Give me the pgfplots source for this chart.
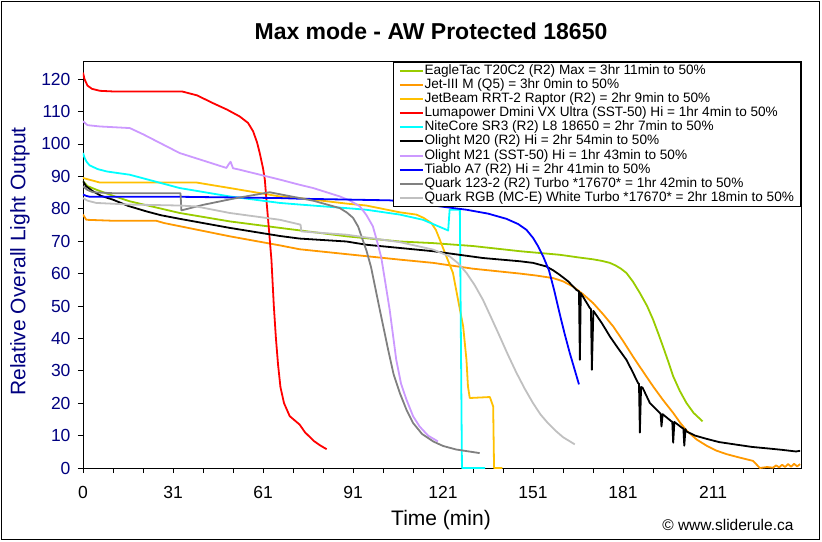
\documentclass[border=0pt]{standalone}
\usepackage{pgfplots}
\pgfplotsset{compat=1.18}
\usepackage{fontspec}
\setmainfont{Liberation Sans}
\definecolor{cGreen}{HTML}{99CC00}
\definecolor{cOrange}{HTML}{FF9900}
\definecolor{cYellow}{HTML}{FFC000}
\definecolor{cRed}{HTML}{FF0000}
\definecolor{cCyan}{HTML}{00FFFF}
\definecolor{cPurple}{HTML}{CC99FF}
\definecolor{cBlue}{HTML}{0000FF}
\definecolor{cGray}{HTML}{808080}
\definecolor{cLGray}{HTML}{C0C0C0}
\definecolor{navy}{HTML}{000080}
\begin{document}
\begin{tikzpicture}
\useasboundingbox (-83pt,-73pt) rectangle (739pt,468pt);
\draw[black,line width=1.5pt] (-81.5pt,-71.5pt) rectangle (736.5pt,466.5pt);
\begin{axis}[
  at={(0pt,0pt)}, anchor=south west,
  scale only axis, width=718pt, height=407pt,
  xmin=0, xmax=239.3, ymin=0, ymax=125.6,
  axis line style={black,line width=0.8pt},
  tick pos=left, tick align=outside, major tick length=5pt,
  tick style={black,line width=0.8pt},
  xtick={0,10,...,230},
  xticklabels={0,,,31,,,61,,,91,,,121,,,151,,,181,,,211,,},
  ytick={0,10,...,120},
  /pgf/number format/assume math mode=true,
  xticklabel style={font=\fontsize{17.5}{20}\selectfont, text=black, yshift=-10pt},
  yticklabel style={font=\fontsize{17.5}{20}\selectfont, text=navy, xshift=-4pt},
  legend cell align=left,
  legend style={at={(rel axis cs:1,1)}, anchor=north east, yshift=-1pt,
    draw=black, line width=0.8pt, fill=white,
    font=\fontsize{13.6}{14}\selectfont,
    inner xsep=6pt, inner ysep=1.5pt,
    nodes={inner sep=0.6pt, text height=10pt, text depth=2.9pt},
    row sep=0pt},
  legend image code/.code={\draw[#1,line width=2pt] (0pt,0pt) -- (23pt,0pt);},
  every axis plot/.append style={line width=1.8pt, line join=round},
]
\addplot[cGreen] coordinates {
(0,88.5) (1.5,87) (4.4,85.9) (10,84) (15.6,82.3) (32.2,78.7) (48.9,76.1) (65.6,74.1)
(87.8,71.5) (105.6,69.9) (116.7,69.4) (130,68.5) (145.6,66.9) (158.9,65.8) (165,65)
(170,64.4) (173,63.9) (175.6,63.3) (177.5,62.5) (179.3,61.5) (181.1,60.2) (183.3,57.5)
(185.6,54) (188,50) (190,45.8) (191.7,41.6) (193.3,37.5) (195,33) (196.7,28.3)
(198.9,23.8) (201.1,20.1) (203.5,17) (206.5,14.4)};
\addlegendentry{EagleTac T20C2 (R2) Max = 3hr 11min to 50\%}
\addplot[cOrange] coordinates {
(0,78.2) (1.1,76.6) (10,76.3) (24.4,76.3) (27,75.6) (48.9,71.5) (65.6,68.7) (72.2,67.5)
(87.8,66) (105.6,64.3) (116.7,63.3) (130,61.5) (145.6,60) (151,59.4) (156.7,58.6)
(160,57.6) (163.3,56) (166.7,53.6) (170,50.9) (173.3,47.5) (176.7,43.7) (180,39.2)
(183.3,34.4) (186.7,29.7) (190,25.2) (193.3,21) (196.7,17) (199,14) (201.1,11.6)
(204.5,8.8) (207.8,6.9) (211,5.4) (214.4,4.3) (218.9,3.2) (223.3,2.2) (225.6,0)
(228,0.3) (230,0.1) (231,0.8) (232,0.2) (233,1.0) (234,0.3) (235,1.2) (236,0.4)
(237,1.3) (238,0.5) (239,1.2)};
\addlegendentry{Jet-III M (Q5) = 3hr 0min to 50\%}
\addplot[cYellow] coordinates {
(0,89.5) (5.6,88.1) (37.8,88.1) (48.9,86.4) (65.6,83.8) (72.2,83.3) (87.8,81.6)
(94.4,81) (105.6,78.9) (111.1,78.2) (113.5,77.2) (116.1,75.6) (117.6,73.5) (118.9,70.5)
(121.1,65.3) (123.3,60.2) (125,51.9) (126.7,43.7) (127.8,33.4) (128.3,25.2) (128.9,21.6)
(135.6,21.9) (136.7,19) (137,0) (139.8,0)};
\addlegendentry{JetBeam RRT-2 Raptor (R2) = 2hr 9min to 50\%}
\addplot[cRed] coordinates {
(0,122) (0.5,120) (1.5,118) (3,117) (5.6,116.4) (10,116.2) (33,116.2) (38,115)
(43.3,112.6) (48,110.6) (52.2,108.5) (55,106.5) (56.7,103.9) (58,100.5) (58.9,97.2)
(60,92.5) (60.6,89) (61.2,82) (61.7,76.6) (62.8,64.3) (63.6,50) (64.3,40) (65,32)
(65.8,25) (67,20) (68.9,16) (72.2,13.4) (74,11) (77,8.3) (79,7) (81.2,5.8)};
\addlegendentry{Lumapower Dmini VX Ultra (SST-50) Hi = 1hr 4min to 50\%}
\addplot[cCyan] coordinates {
(0,97.2) (0.5,95.8) (1.2,94.5) (2.2,93.4) (5,92.2) (8,91.5) (15.6,90.5) (32.2,86.4)
(48.9,83.8) (65.6,81.8) (72.2,81.3) (87.8,80.2) (94.4,79.7) (105.6,78.2) (113.3,76.6)
(121.7,73.3) (122.2,79.7) (125.6,79.7) (126.3,0) (134,0)};
\addlegendentry{NiteCore SR3 (R2) L8 18650 = 2hr 7min to 50\%}
\addplot[black] coordinates {
(0,88.5) (1,87) (3.3,85.4) (6,84) (10,82.8) (15,80.9) (21.1,79.2) (26,78) (32.2,76.9)
(48.9,74.1) (65.6,71.6) (72.2,70.8) (87.8,69.9) (94.4,68.9) (105.6,67.9) (116.7,66.9)
(133.3,64.8) (145.6,63.8) (150,63.3) (154.4,62.2) (156.7,61) (158.9,59.6) (161.7,57.6)
(164.4,55) (165.3,54.5) (165.6,33.4) (165.9,54) (168.9,49.4) (169.3,49) (169.6,30.3)
(170.1,48.5) (173,44.6) (175.6,40.6) (178.3,37) (181.1,33.4) (183,30) (185,26.2)
(185.3,26) (185.6,10.9) (186,25) (186.5,24.8) (188.9,20.1) (192.2,17) (192.5,16.8)
(192.8,12.8) (193.2,16.6) (196.1,14.4) (196.4,14.3) (196.7,7.8) (197.1,14.2) (199.8,12.3)
(200.1,12.2) (200.4,6.9) (200.8,12) (201.1,11.3) (204,10) (207.8,9) (212,8) (217.8,7.2)
(223,6.5) (228.7,6) (233,5.6) (237.6,5.1) (239,5.3)};
\addlegendentry{Olight M20 (R2) Hi = 2hr 54min to 50\%}
\addplot[cPurple] coordinates {
(0,107) (1.5,105.8) (5.6,105.4) (15.6,104.9) (20,103) (32.2,97.2) (47.8,92.6) (48.6,93.8)
(49.2,94.5) (50,92.5) (52,92.1) (65.6,89) (72.2,87.4) (76.7,86.4) (85.6,83.8) (89,82.5)
(92.2,80.8) (94.5,78) (96.6,74.6) (98,70) (99.4,65) (100.8,57) (102.2,48.9) (104.4,33.4)
(106,26) (107.8,21.1) (110,16) (112.2,12.8) (115,10) (118.3,8.2)};
\addlegendentry{Olight M21 (SST-50) Hi = 1hr 43min to 50\%}
\addplot[cBlue] coordinates {
(0,84.4) (1,84) (2.2,83.7) (32.2,83.7) (65.6,83.3) (72.2,83.1) (102.2,82.6) (105.6,82.3)
(127.8,79.7) (135,78.5) (141.1,76.9) (145,75.3) (147.8,73.5) (150,71) (151.7,68.4)
(153.5,65) (155.3,61) (157,55) (158.9,47.5) (160.5,41.5) (162.2,35.6) (165.3,25.8)};
\addlegendentry{Tiablo A7 (R2) Hi = 2hr 41min to 50\%}
\addplot[cGray] coordinates {
(0,86.9) (1.5,85.8) (3.3,85.1) (10,84.8) (32.5,84.8) (32.8,79.5) (40,81.2) (50,83.1)
(62.2,85.1) (72.2,83.3) (76.7,82.5) (85.6,80.2) (88,78.8) (90,77.2) (91.7,74.5) (93,71)
(94.5,67) (96,62) (98.9,48.9) (101.7,36.5) (103.5,29) (105.6,23.1) (107.8,18) (110,13.9)
(113,10.5) (116.7,8.2) (120,6.8) (124.4,5.7) (132.2,4.6)};
\addlegendentry{Quark 123-2 (R2) Turbo *17670* = 1hr 42min to 50\%}
\addplot[cLGray] coordinates {
(0,83.3) (1.5,82.5) (4.4,81.8) (15.6,81.3) (32.2,81) (37.8,80.7) (48.9,78.7) (65.6,76.6)
(72.5,75.1) (72.8,73) (87.8,72) (105.6,69.7) (116.7,67.4) (122.2,65.3) (125,63.2)
(127.8,60.2) (130.5,56.5) (133.3,51.9) (136,46.5) (138.9,40.6) (141.6,35) (144.4,29.5)
(147.2,24.5) (150,20) (152.5,16.5) (155,13.8) (157.5,11.5) (160,9.5) (163.9,7.3)};
\addlegendentry{Quark RGB (MC-E) White Turbo *17670* = 2hr 18min to 50\%}
\end{axis}
\node[font=\fontsize{23}{26}\selectfont\bfseries] at (348pt,436.5pt) {Max mode - AW Protected 18650};
\node[font=\fontsize{21}{24}\selectfont] at (358pt,-52.5pt) {Time (min)};
\node[font=\fontsize{21}{24}\selectfont, text=navy, rotate=90] at (-63pt,206.5pt) {Relative Overall Light Output};
\node[font=\fontsize{15.5}{18}\selectfont, anchor=east] at (714pt,-57pt) {© www.sliderule.ca};
\end{tikzpicture}
\end{document}
